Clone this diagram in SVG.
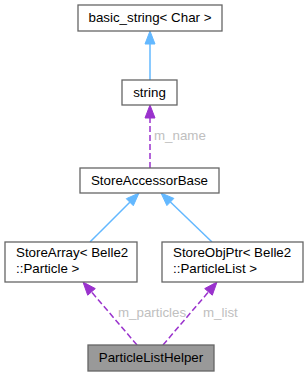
<svg xmlns="http://www.w3.org/2000/svg" width="306" height="376" viewBox="0 0 306 376">
<style>
.box{fill:#ffffff;stroke:#666666;stroke-width:1.3}
.root{fill:#999999;stroke:#666666;stroke-width:1.3}
text{font-family:"Liberation Sans",Arial,sans-serif;font-size:13.33px;fill:#000000}
.lbl{fill:#c0c0c0}
.inh{stroke:#63b8ff;stroke-width:1.5;fill:none}
.inhh{fill:#63b8ff;stroke:#63b8ff}
.use{stroke:#9a32cd;stroke-width:1.5;fill:none;stroke-dasharray:6,3}
.useh{fill:#9a32cd;stroke:#9a32cd}
</style>
<rect width="306" height="376" fill="#ffffff"/>
<g id="connectors">
<line class="inh" x1="150" y1="80" x2="150" y2="44"/>
<polygon class="inhh" points="150,31 145,44 155,44"/>
<line class="use" x1="150" y1="168" x2="150" y2="118"/>
<polygon class="useh" points="150,105 145,118 155,118"/>
<text class="lbl" x="154" y="140">m_name</text>
<line class="inh" x1="90" y1="242" x2="129.8" y2="202.2"/>
<polygon class="inhh" points="139,193 133.3,205.7 126.3,198.7"/>
<line class="inh" x1="212" y1="242" x2="170.4" y2="202"/>
<polygon class="inhh" points="161,193 173.9,198.4 166.9,205.6"/>
<line class="use" x1="137" y1="345" x2="91.5" y2="291.9"/>
<polygon class="useh" points="83,282 95.3,288.6 87.7,295.2"/>
<text class="lbl" x="118" y="317">m_particles</text>
<line class="use" x1="163" y1="345" x2="208.5" y2="291.9"/>
<polygon class="useh" points="217,282 212.3,295.2 204.7,288.6"/>
<text class="lbl" x="203" y="317">m_list</text>
</g>
<g id="basic_string">
<rect class="box" x="78" y="5" width="144" height="26"/>
<text x="150" y="22" text-anchor="middle">basic_string&lt; Char &gt;</text>
</g>
<g id="string">
<rect class="box" x="122" y="80" width="55" height="25"/>
<text x="149.5" y="97" text-anchor="middle">string</text>
</g>
<g id="StoreAccessorBase">
<rect class="box" x="80" y="168" width="139" height="25"/>
<text x="149.5" y="185" text-anchor="middle">StoreAccessorBase</text>
</g>
<g id="StoreArray">
<rect class="box" x="5" y="242" width="132" height="40"/>
<text x="16" y="257">StoreArray&lt; Belle2</text>
<text x="16" y="273">::Particle &gt;</text>
</g>
<g id="StoreObjPtr">
<rect class="box" x="162" y="242" width="141" height="40"/>
<text x="173" y="257">StoreObjPtr&lt; Belle2</text>
<text x="173" y="273">::ParticleList &gt;</text>
</g>
<g id="ParticleListHelper">
<rect class="root" x="88" y="345" width="126" height="26"/>
<text x="151" y="362" text-anchor="middle">ParticleListHelper</text>
</g>
</svg>
